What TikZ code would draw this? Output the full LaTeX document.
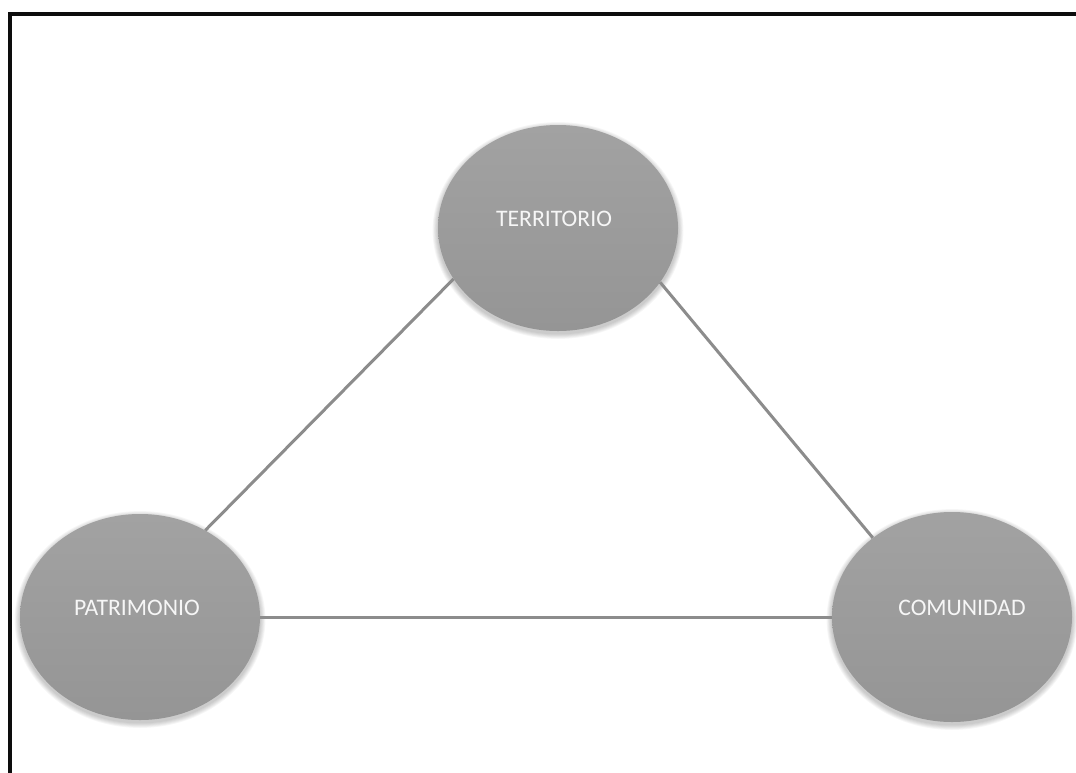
\documentclass[tikz,border=0pt]{standalone}
\usepackage{fontspec}
\setmainfont{Carlito}
\usetikzlibrary{shapes.geometric}
\definecolor{bubbletop}{HTML}{A2A2A2}
\definecolor{bubblebot}{HTML}{959595}
\definecolor{linkgray}{HTML}{8C8C8C}
\definecolor{labelwhite}{HTML}{F6F6F6}
\tikzset{
  bubble/.style={ellipse, inner sep=0pt, minimum width=240pt, minimum height=206pt,
    top color=bubbletop, bottom color=bubblebot, draw=none},
  lbl/.style={text=labelwhite, font=\fontsize{23.7pt}{26pt}\selectfont, yshift=9pt},
  link/.style={draw=linkgray, line width=3pt}
}
% soft shadow under a bubble: centre x, centre y, half width, half height
\newcommand\bubbleshadow[4]{%
  \foreach \k in {1,...,6}{%
    \fill[black, opacity=0.035]
      (#1,#2+2.5) ellipse [x radius={#3+\k*0.9}, y radius={#4+\k*0.9}];
  }%
}
\begin{document}
\begin{tikzpicture}[x=1pt,y=-1pt]
\useasboundingbox (0,0) rectangle (1076,772);
\clip (0,0) rectangle (1076,772);
\fill[white] (0,0) rectangle (1076,772);
% frame around the figure
\draw[line width=4pt, draw=black!95] (10,790) -- (10,14) -- (1090,14);
% shadows
\bubbleshadow{558}{228}{120}{103}
\bubbleshadow{140}{617}{120}{103}
\bubbleshadow{952}{617}{120}{105}
% concept bubbles
\node[bubble] (t) at (558,228) {};
\node[bubble] (p) at (140,617) {};
\node[bubble, minimum height=210pt] (c) at (952,617) {};
% links between concepts
\draw[link] (t.206) -- (p.53);
\draw[link] (t.332) -- (c.135);
\draw[link] (p.east) -- (c.west);
% labels
\node[lbl] at ([xshift=-4pt]t.center) {TERRITORIO};
\node[lbl] at ([xshift=-3pt]p.center) {PATRIMONIO};
\node[lbl] at ([xshift=10pt]c.center) {COMUNIDAD};
\end{tikzpicture}
\end{document}
